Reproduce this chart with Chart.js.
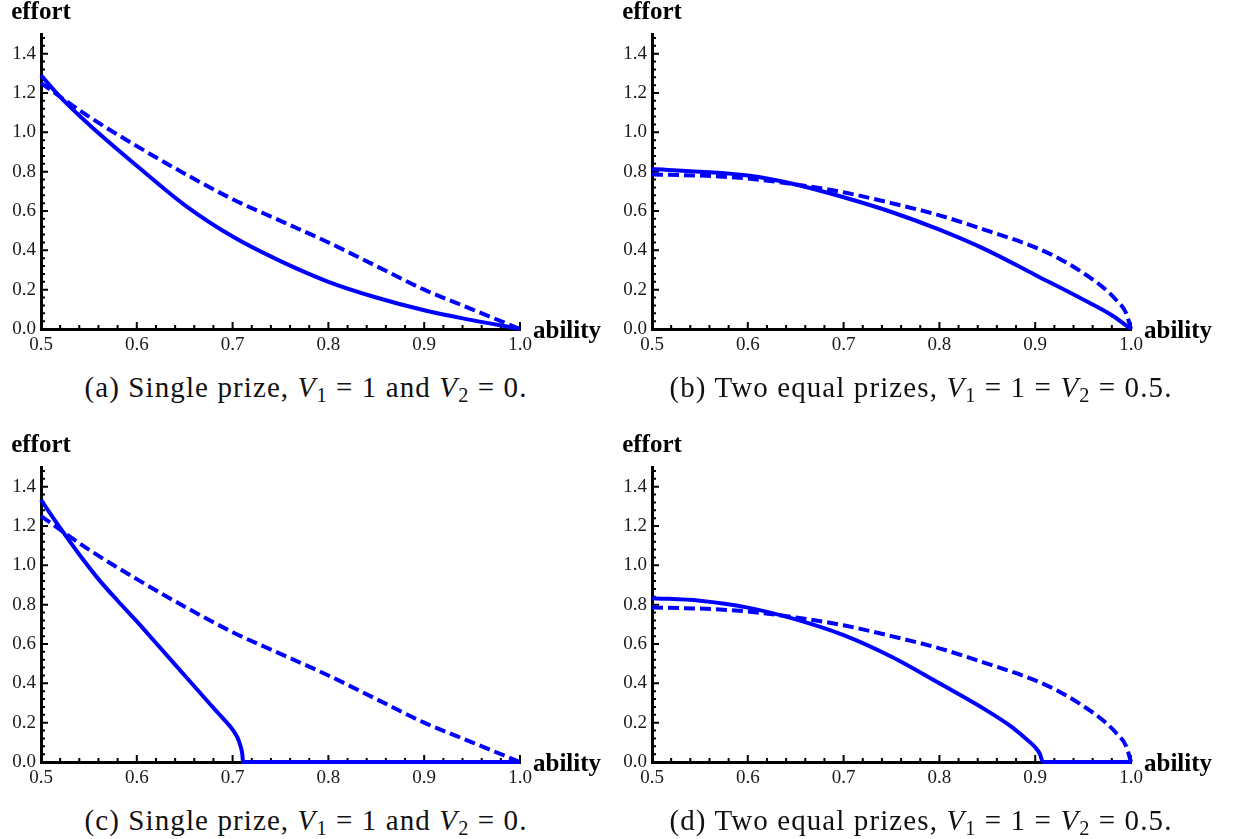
<!DOCTYPE html>
<html>
<head>
<meta charset="utf-8">
<title>Effort against ability</title>
<script src="https://cdn.jsdelivr.net/npm/chart.js@4.4.1/dist/chart.umd.min.js"></script>
<style>
    body { margin: 0; background: #fff; }
    #page { position: relative; width: 1235px; height: 839px; overflow: hidden; background: #fff; }
    #page canvas { position: absolute; }
    .caption {
        position: absolute;
        width: 620px;
        text-align: center;
        font-family: "Liberation Serif", serif;
        font-size: 29px;
        line-height: 32px;
        letter-spacing: 1.1px;
        color: #111;
        white-space: nowrap;
    }
    .caption sub { font-size: 70%; vertical-align: -0.25em; line-height: 0; }
</style>
</head>
<body>
<div id="page">
    <canvas id="panelA" width="620" height="360" style="left:0;top:0"></canvas>
    <canvas id="panelB" width="620" height="360" style="left:611px;top:0"></canvas>
    <canvas id="panelC" width="620" height="360" style="left:0;top:433px"></canvas>
    <canvas id="panelD" width="620" height="360" style="left:611px;top:433px"></canvas>

    <div class="caption" style="left:-4px;top:371px">(a) Single prize, <i>V</i><sub>1</sub> = 1 and <i>V</i><sub>2</sub> = 0.</div>
    <div class="caption" style="left:611px;top:371px">(b) Two equal prizes, <i>V</i><sub>1</sub> = 1 = <i>V</i><sub>2</sub> = 0.5.</div>
    <div class="caption" style="left:-4px;top:804px">(c) Single prize, <i>V</i><sub>1</sub> = 1 and <i>V</i><sub>2</sub> = 0.</div>
    <div class="caption" style="left:611px;top:804px">(d) Two equal prizes, <i>V</i><sub>1</sub> = 1 = <i>V</i><sub>2</sub> = 0.5.</div>
</div>

<script>
// tick labels
const xTickValues = [0.5, 0.6, 0.7, 0.8, 0.9, 1.0];
const yTickValues = [0.0, 0.2, 0.4, 0.6, 0.8, 1.0, 1.2, 1.4];

// (a) single prize - solid curve
const abilityA = [0.5, 0.52, 0.55, 0.6, 0.65, 0.7, 0.75, 0.8, 0.85, 0.9, 0.95, 1.0];
const effortA  = [1.29, 1.18, 1.04, 0.83, 0.63, 0.47, 0.345, 0.24, 0.16, 0.095, 0.045, 0.0];

// (a)/(c) single prize - dashed curve
const abilitySingleDash = [0.5, 0.55, 0.6, 0.65, 0.7, 0.75, 0.8, 0.85, 0.9, 0.95, 1.0];
const effortSingleDash  = [1.25, 1.08, 0.93, 0.79, 0.66, 0.55, 0.44, 0.32, 0.2, 0.1, 0.0];

// (b) two equal prizes - solid curve
const abilityB = [0.5, 0.55, 0.6, 0.65, 0.7, 0.75, 0.8, 0.85, 0.9, 0.95, 0.98, 1.0];
const effortB  = [0.813, 0.80, 0.78, 0.735, 0.67, 0.595, 0.505, 0.40, 0.275, 0.15, 0.07, 0.0];

// (b)/(d) two equal prizes - dashed curve
const abilityTwoDash = [0.5, 0.55, 0.6, 0.65, 0.7, 0.75, 0.8, 0.85, 0.9, 0.93, 0.95, 0.97, 0.985, 0.995, 1.0];
const effortTwoDash  = [0.785, 0.78, 0.765, 0.735, 0.695, 0.64, 0.578, 0.50, 0.415, 0.345, 0.285, 0.215, 0.145, 0.08, 0.0];

// (c) single prize - solid curve (drops out at ~0.711)
const abilityC = [0.5, 0.52, 0.54, 0.56, 0.58, 0.6, 0.62, 0.64, 0.66, 0.68, 0.69, 0.7, 0.705, 0.708, 0.71, 0.711, 0.75, 0.8, 0.9, 1.0];
const effortC  = [1.333, 1.19, 1.055, 0.93, 0.82, 0.715, 0.605, 0.495, 0.385, 0.275, 0.222, 0.165, 0.125, 0.085, 0.045, 0.0, 0.0, 0.0, 0.0, 0.0];

// (d) two equal prizes - solid curve (drops out at ~0.908)
const abilityD = [0.5, 0.55, 0.6, 0.65, 0.7, 0.75, 0.8, 0.85, 0.875, 0.89, 0.9, 0.905, 0.908, 0.95, 1.0];
const effortD  = [0.833, 0.82, 0.785, 0.725, 0.645, 0.535, 0.40, 0.26, 0.18, 0.12, 0.075, 0.04, 0.0, 0.0, 0.0];

const BLUE = '#0000ff';
const TICK_FONT = { family: '"Liberation Serif", serif', size: 19 };

// inward tick marks (Mathematica style) + axis labels at the ends
const axisDecor = {
    id: 'axisDecor',
    beforeDatasetsDraw(chart) {
        const { ctx, chartArea, scales: { x, y } } = chart;
        ctx.save();
        ctx.strokeStyle = '#000';
        ctx.lineWidth = 2;
        ctx.beginPath();
        for (let i = 1; i <= 25; i++) {
            const px = x.getPixelForValue(0.5 + i * 0.02);
            const len = i % 5 === 0 ? 7 : 4;
            ctx.moveTo(px, chartArea.bottom);
            ctx.lineTo(px, chartArea.bottom - len);
        }
        for (let i = 1; i <= 37; i++) {
            const py = y.getPixelForValue(i * 0.04);
            const len = i % 5 === 0 ? 7 : 4;
            ctx.moveTo(chartArea.left, py);
            ctx.lineTo(chartArea.left + len, py);
        }
        ctx.stroke();
        ctx.restore();
    },
    afterDraw(chart) {
        const { ctx, chartArea } = chart;
        ctx.save();
        ctx.fillStyle = '#000';
        ctx.font = 'bold 25px "Liberation Serif", serif';
        ctx.textBaseline = 'alphabetic';
        ctx.textAlign = 'center';
        ctx.fillText('effort', chartArea.left, chartArea.top - 15);
        ctx.textAlign = 'left';
        ctx.fillText('ability', chartArea.right + 13, chartArea.bottom + 9);
        ctx.restore();
    }
};

function toPoints(xs, ys) {
    return xs.map((x, i) => ({ x: x, y: ys[i] }));
}

function buildPanel(canvasId, solidX, solidY, dashX, dashY) {
    const lineBase = {
        borderColor: BLUE,
        borderWidth: 4,
        pointRadius: 0,
        fill: false,
        cubicInterpolationMode: 'monotone',
        clip: false
    };
    return new Chart(document.getElementById(canvasId), {
        type: 'line',
        data: {
            datasets: [
                Object.assign({ label: 'solid', data: toPoints(solidX, solidY) }, lineBase),
                Object.assign({ label: 'dashed', data: toPoints(dashX, dashY), borderDash: [11, 5] }, lineBase)
            ]
        },
        options: {
            responsive: false,
            animation: false,
            events: [],
            layout: { padding: { left: 0, top: 34, right: 100, bottom: 0 } },
            plugins: { legend: { display: false }, tooltip: { enabled: false } },
            scales: {
                x: {
                    type: 'linear',
                    min: 0.5,
                    max: 1.0,
                    afterBuildTicks: s => { s.ticks = xTickValues.map(v => ({ value: v })); },
                    afterFit: s => { s.height = 31; },
                    grid: { display: false, drawTicks: false },
                    border: { display: true, color: '#000', width: 3 },
                    ticks: {
                        padding: 5,
                        autoSkip: false,
                        maxRotation: 0,
                        font: TICK_FONT,
                        color: '#1a1a1a',
                        callback: v => Number(v).toFixed(1)
                    }
                },
                y: {
                    type: 'linear',
                    min: 0,
                    max: 1.5,
                    afterBuildTicks: s => { s.ticks = yTickValues.map(v => ({ value: v })); },
                    afterFit: s => { s.width = 41; },
                    grid: { display: false, drawTicks: false },
                    border: { display: true, color: '#000', width: 3 },
                    ticks: {
                        padding: 5,
                        font: TICK_FONT,
                        color: '#1a1a1a',
                        callback: v => Number(v).toFixed(1)
                    }
                }
            }
        },
        plugins: [axisDecor]
    });
}

buildPanel('panelA', abilityA, effortA, abilitySingleDash, effortSingleDash);
buildPanel('panelB', abilityB, effortB, abilityTwoDash, effortTwoDash);
buildPanel('panelC', abilityC, effortC, abilitySingleDash, effortSingleDash);
buildPanel('panelD', abilityD, effortD, abilityTwoDash, effortTwoDash);
</script>
</body>
</html>
